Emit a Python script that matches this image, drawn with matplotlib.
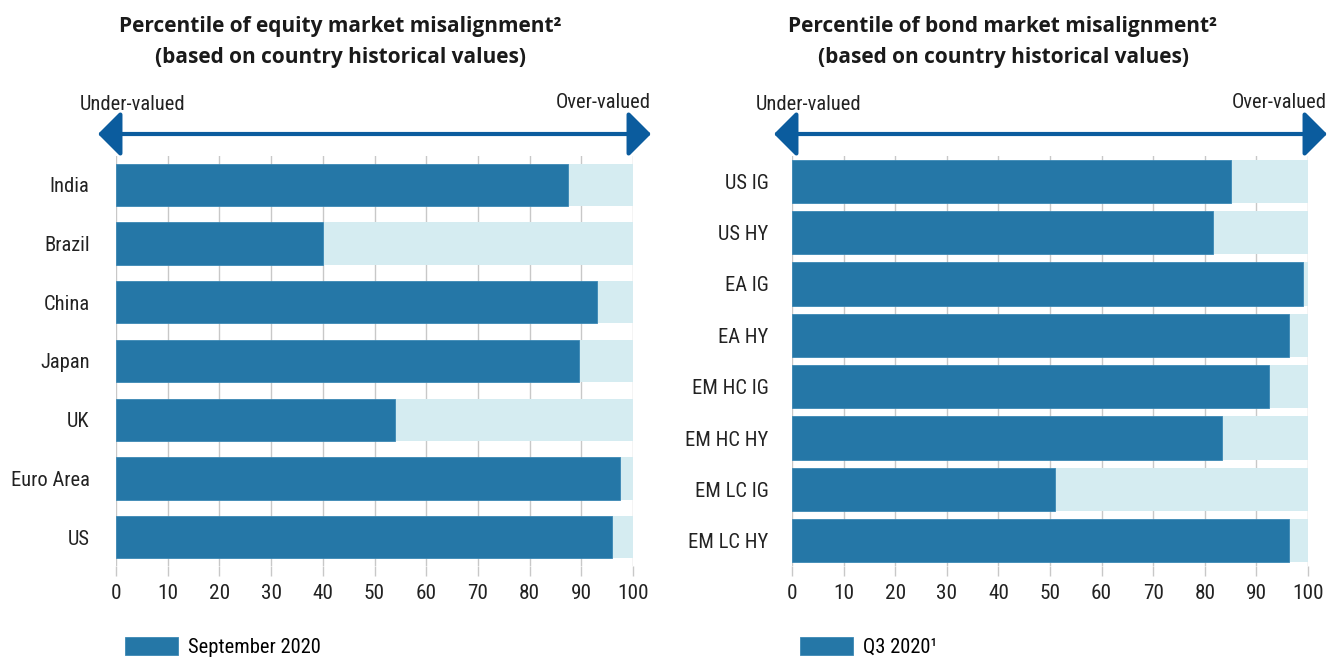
import matplotlib
matplotlib.use("Agg")
import matplotlib.pyplot as plt
from matplotlib.patches import FancyArrowPatch

# ---- data ----
equity_categories = ["India", "Brazil", "China", "Japan", "UK", "Euro Area", "US"]
equity_values = [87.5, 40, 93, 89.5, 54, 97.5, 96]
equity_title = "Percentile of equity market misalignment\u00b2\n(based on country historical values)"
equity_legend = "September 2020"

bond_categories = ["US IG", "US HY", "EA IG", "EA HY", "EM HC IG", "EM HC HY", "EM LC IG", "EM LC HY"]
bond_values = [85, 81.5, 99, 96.3, 92.4, 83.3, 51, 96.4]
bond_title = "Percentile of bond market misalignment\u00b2\n(based on country historical values)"
bond_legend = "Q3 2020\u00b9"

x_ticks = [0, 10, 20, 30, 40, 50, 60, 70, 80, 90, 100]
full_scale = 100

# ---- style ----
DARK = "#2577A7"
LIGHT = "#D5ECF1"
ARROW = "#0B5C9E"
GRID = "#C8C8C8"
COND = ["Roboto Condensed", "DejaVu Sans"]
BOLD = ["Open Sans", "DejaVu Sans"]
FS = 14.8

W, H = 1329, 658
fig = plt.figure(figsize=(W / 100, H / 100), dpi=100)


def fx(px):
    return px / W


def fy(py):
    return 1 - py / H


def panel(left_px, right_px, cats, vals, bar_h, title, title_cx, legend_label, legend_x, arrow_l, arrow_r, ypad):
    top_px, bot_px = 156, 566
    ax = fig.add_axes([fx(left_px), fy(bot_px), fx(right_px - left_px), (bot_px - top_px) / H])
    n = len(cats)
    y = list(range(n))
    bars = ax.barh(y, vals, height=bar_h, color=DARK, edgecolor="#3B88B5", linewidth=0.6, zorder=3,
                   label=legend_label)
    ax.barh(y, [full_scale - v for v in vals], left=vals, height=bar_h, color=LIGHT, linewidth=0, zorder=2)
    ax.set_xlim(0, full_scale)
    ax.set_ylim(n - 1 + 0.49, -0.49)
    ax.set_yticks(y)
    ax.set_yticklabels(cats, fontfamily=COND, fontsize=FS, color="#222222")
    ax.set_xticks(x_ticks)
    ax.set_xticklabels([str(t) for t in x_ticks], fontfamily=COND, fontsize=FS + 0.5, color="#222222")
    for s in ax.spines.values():
        s.set_visible(False)
    ax.tick_params(axis="y", length=0, pad=ypad)
    ax.tick_params(axis="x", length=7, width=1, color=GRID, pad=6)
    ax.xaxis.grid(True, color=GRID, linewidth=1, zorder=0)
    ax.set_axisbelow(True)

    fig.text(fx(title_cx), fy(42), title, ha="center", va="center", fontfamily=BOLD,
             fontweight="bold", fontsize=15, color="#1a1a1a", linespacing=1.6)

    # arrow
    arr = FancyArrowPatch((fx(arrow_l), fy(134)), (fx(arrow_r), fy(134)), transform=fig.transFigure,
                          arrowstyle="<|-|>,head_length=1.0,head_width=1.0", mutation_scale=14,
                          color=ARROW, linewidth=3, shrinkA=0, shrinkB=0)
    fig.patches.append(arr)
    fig.text(fx(arrow_l - 18), fy(104), "Under-valued", ha="left", va="center", fontfamily=COND,
             fontsize=FS, color="#222222")
    fig.text(fx(arrow_r), fy(102), "Over-valued", ha="right", va="center", fontfamily=COND,
             fontsize=FS, color="#222222")

    ax.legend(handles=[bars], loc="center left", bbox_to_anchor=(fx(legend_x), fy(647)),
              bbox_transform=fig.transFigure, frameon=False, handlelength=2.6, handleheight=1.0,
              handletextpad=0.45, borderaxespad=0, borderpad=0,
              prop={"family": COND, "size": FS})
    return ax


panel(116, 633, equity_categories, equity_values, 0.72, equity_title, 340, equity_legend, 125, 98, 651, 19)
panel(792, 1308, bond_categories, bond_values, 0.84, bond_title, 1003, bond_legend, 800, 774, 1327, 17)

fig.savefig("out.png", dpi=100)
